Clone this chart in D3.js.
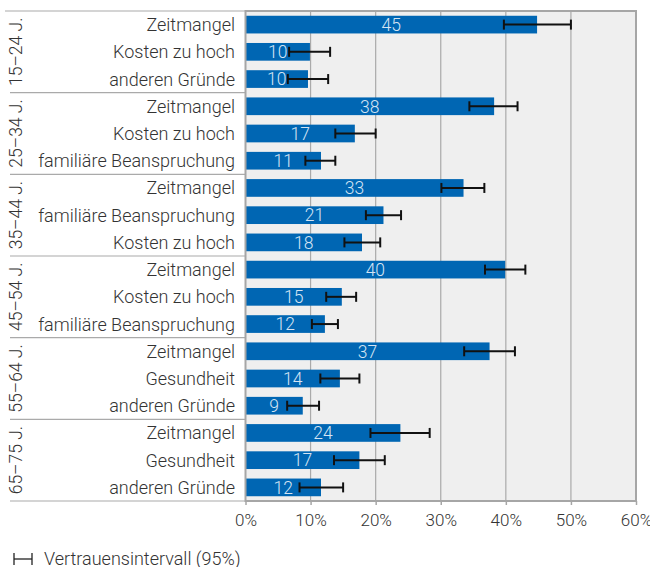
<!DOCTYPE html>
<html>
<head>
<meta charset="utf-8">
<script src="https://cdn.jsdelivr.net/npm/d3@7"></script>
<style>
  body { margin: 0; background: #fff; }
  text { font-family: Roboto, "Open Sans", sans-serif; font-weight: 300; }
</style>
</head>
<body>
<div id="vis"></div>
<script>
// age groups and the reasons shown for each
const groups = ["15–24 J.", "25–34 J.", "35–44 J.", "45–54 J.", "55–64 J.", "65–75 J."];
const reasons = [
  ["Zeitmangel", "Kosten zu hoch", "anderen Gründe"],
  ["Zeitmangel", "Kosten zu hoch", "familiäre Beanspruchung"],
  ["Zeitmangel", "familiäre Beanspruchung", "Kosten zu hoch"],
  ["Zeitmangel", "Kosten zu hoch", "familiäre Beanspruchung"],
  ["Zeitmangel", "Gesundheit", "anderen Gründe"],
  ["Zeitmangel", "Gesundheit", "anderen Gründe"]
];
const values = [
  [44.8, 9.9, 9.6],
  [38.2, 16.8, 11.6],
  [33.5, 21.2, 17.9],
  [39.9, 14.8, 12.2],
  [37.5, 14.5, 8.8],
  [23.8, 17.5, 11.6]
];
// numbers printed on the bars
const labels = [
  [45, 10, 10],
  [38, 17, 11],
  [33, 21, 18],
  [40, 15, 12],
  [37, 14, 9],
  [24, 17, 12]
];
const lower = [
  [39.7, 6.7, 6.5],
  [34.4, 13.8, 9.2],
  [30.1, 18.5, 15.2],
  [36.8, 12.4, 10.2],
  [33.6, 11.5, 6.4],
  [19.2, 13.6, 8.3]
];
const upper = [
  [50.0, 13.0, 12.7],
  [41.8, 20.0, 13.8],
  [36.7, 23.9, 20.7],
  [43.0, 17.0, 14.2],
  [41.4, 17.5, 11.3],
  [28.3, 21.4, 15.0]
];
const ticks = [0, 10, 20, 30, 40, 50, 60];
const legendLabel = "Vertrauensintervall (95%)";

const width = 650, height = 567;
const plotL = 245.5, plotR = 636, plotT = 11, plotB = 501;

const rows = [];
groups.forEach((g, gi) => {
  reasons[gi].forEach((r, ri) => {
    rows.push({key: gi + "-" + ri, group: gi, reason: r, label: labels[gi][ri],
      value: values[gi][ri], lo: lower[gi][ri], hi: upper[gi][ri]});
  });
});

const x = d3.scaleLinear().domain([0, 60]).range([plotL, plotR]);
const y = d3.scaleBand().domain(rows.map(d => d.key)).range([plotT, plotB]).paddingInner(0.35).paddingOuter(0.175);
const rowH = (plotB - plotT) / rows.length;

const svg = d3.select("#vis").append("svg")
    .attr("width", width)
    .attr("height", height);

// plot background
svg.append("rect")
    .attr("x", plotL).attr("y", plotT)
    .attr("width", plotR - plotL).attr("height", plotB - plotT)
    .attr("fill", "#efefef");

// grid lines
svg.append("g")
  .selectAll("line")
  .data(ticks.slice(1, -1))
  .join("line")
    .attr("x1", d => x(d)).attr("x2", d => x(d))
    .attr("y1", plotT).attr("y2", plotB)
    .attr("stroke", "#aaa")
    .attr("stroke-width", 1.2);

// bars
svg.append("g")
  .selectAll("rect")
  .data(rows)
  .join("rect")
    .attr("x", x(0))
    .attr("y", d => y(d.key))
    .attr("width", d => x(d.value) - x(0))
    .attr("height", y.bandwidth())
    .attr("fill", "#0066b3");

// value labels
svg.append("g")
  .selectAll("text")
  .data(rows)
  .join("text")
    .attr("x", d => (x(0) + x(d.value)) / 2)
    .attr("y", d => y(d.key) + y.bandwidth() / 2)
    .attr("dy", "0.36em")
    .attr("text-anchor", "middle")
    .attr("font-size", 17.5)
    .attr("fill", "#d5e4f3")
    .text(d => d.label);

// error bars
const err = svg.append("g")
    .attr("stroke", "#111")
    .attr("stroke-width", 2)
  .selectAll("g")
  .data(rows)
  .join("g")
    .attr("transform", d => `translate(0,${y(d.key) + y.bandwidth() / 2})`);
err.append("line")
    .attr("x1", d => x(d.lo)).attr("x2", d => x(d.hi));
err.append("line")
    .attr("x1", d => x(d.lo)).attr("x2", d => x(d.lo))
    .attr("y1", -5).attr("y2", 5);
err.append("line")
    .attr("x1", d => x(d.hi)).attr("x2", d => x(d.hi))
    .attr("y1", -5).attr("y2", 5);

// category labels
svg.append("g")
  .selectAll("text")
  .data(rows)
  .join("text")
    .attr("x", 235)
    .attr("y", d => y(d.key) + y.bandwidth() / 2)
    .attr("dy", "0.36em")
    .attr("text-anchor", "end")
    .attr("font-size", 18)
    .attr("fill", "#333")
    .text(d => d.reason);

// group labels, rotated
svg.append("g")
  .selectAll("text")
  .data(groups)
  .join("text")
    .attr("transform", (d, i) => `translate(16,${plotT + rowH * 3 * i + rowH * 1.5}) rotate(-90)`)
    .attr("dy", "0.36em")
    .attr("text-anchor", "middle")
    .attr("font-size", 17.5)
    .attr("fill", "#333")
    .text(d => d);

// group separators in the label panel
svg.append("g")
  .selectAll("line")
  .data(d3.range(groups.length + 1))
  .join("line")
    .attr("x1", i => (i === 0 ? 5 : 10)).attr("x2", plotL)
    .attr("y1", i => plotT + rowH * 3 * i).attr("y2", i => plotT + rowH * 3 * i)
    .attr("stroke", "#aaa")
    .attr("stroke-width", 1.2);

// frame of the plot
svg.append("rect")
    .attr("x", plotL).attr("y", plotT)
    .attr("width", plotR - plotL).attr("height", plotB - plotT)
    .attr("fill", "none")
    .attr("stroke", "#a6a6a6")
    .attr("stroke-width", 2);

// x axis
const axis = svg.append("g")
    .attr("transform", `translate(0,${plotB})`)
    .call(d3.axisBottom(x).tickValues(ticks).tickFormat(d => d + "%").tickSize(4).tickPadding(9));
axis.select(".domain").remove();
axis.selectAll(".tick line").attr("stroke", "#a6a6a6").attr("stroke-width", 1.5);
axis.selectAll(".tick text")
    .attr("font-size", 17)
    .attr("font-family", "Roboto, sans-serif")
    .attr("fill", "#333");

// legend
const leg = svg.append("g")
    .attr("transform", "translate(14,559)")
    .attr("stroke", "#222")
    .attr("stroke-width", 1.3);
leg.append("line").attr("x1", 0).attr("x2", 18);
leg.append("line").attr("x1", 0).attr("x2", 0).attr("y1", -6).attr("y2", 6);
leg.append("line").attr("x1", 18).attr("x2", 18).attr("y1", -6).attr("y2", 6);
svg.append("text")
    .attr("x", 44).attr("y", 559)
    .attr("dy", "0.36em")
    .attr("font-size", 18)
    .attr("fill", "#333")
    .text(legendLabel);
</script>
</body>
</html>
